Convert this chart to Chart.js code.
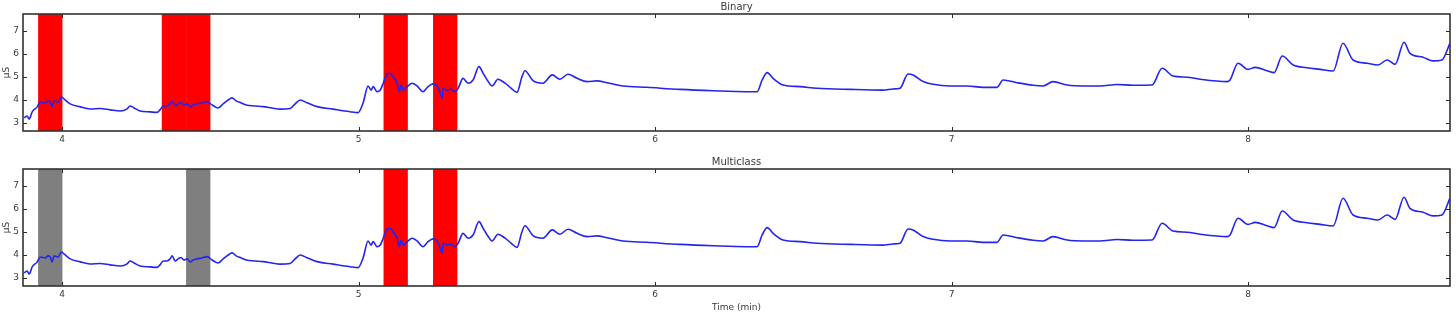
<!DOCTYPE html>
<html>
<head>
<meta charset="utf-8">
<script src="https://cdn.jsdelivr.net/npm/chart.js@4.4.1/dist/chart.umd.min.js"></script>
<style>
  html, body { margin: 0; padding: 0; background: #ffffff; }
  #wrap { position: relative; width: 1456px; height: 317px; overflow: hidden; }
  canvas { position: absolute; left: 0; }
  #c1 { top: 0; }
  #c2 { top: 155px; }
</style>
</head>
<body>
<div id="wrap">
  <canvas id="c1" width="1456" height="155"></canvas>
  <canvas id="c2" width="1456" height="162"></canvas>
</div>
<script>
// ---- data (time in minutes, skin conductance in µS) ----
const timeMin = [3.872,3.882,3.889,3.899,3.916,3.926,3.943,3.953,3.960,3.966,3.973,3.987,3.997,4.007,4.027,4.061,4.094,4.128,4.162,4.196,4.219,4.229,4.243,4.263,4.297,4.320,4.330,4.341,4.354,4.364,4.371,4.381,4.391,4.401,4.411,4.422,4.432,4.442,4.455,4.472,4.489,4.506,4.526,4.543,4.560,4.573,4.587,4.604,4.621,4.651,4.678,4.708,4.735,4.769,4.786,4.803,4.826,4.860,4.914,4.971,4.998,5.015,5.032,5.042,5.049,5.062,5.073,5.083,5.096,5.106,5.116,5.130,5.137,5.143,5.150,5.164,5.180,5.197,5.217,5.234,5.251,5.268,5.282,5.285,5.298,5.309,5.325,5.336,5.352,5.369,5.386,5.406,5.420,5.437,5.450,5.470,5.494,5.514,5.534,5.551,5.561,5.588,5.622,5.653,5.679,5.706,5.737,5.771,5.804,5.838,5.892,5.973,6.084,6.196,6.310,6.344,6.361,6.378,6.398,6.432,6.489,6.546,6.658,6.769,6.803,6.826,6.853,6.870,6.904,6.938,6.995,7.052,7.106,7.153,7.174,7.221,7.275,7.309,7.342,7.390,7.444,7.501,7.558,7.612,7.676,7.710,7.747,7.794,7.838,7.929,7.939,7.966,8.000,8.024,8.064,8.088,8.115,8.152,8.199,8.243,8.287,8.320,8.354,8.401,8.438,8.469,8.496,8.526,8.546,8.590,8.624,8.654,8.681];
const conductance = [3.22,3.30,3.17,3.48,3.70,3.91,3.87,3.96,3.91,3.70,3.96,3.91,4.13,4.04,3.83,3.70,3.61,3.63,3.57,3.52,3.61,3.74,3.65,3.52,3.48,3.46,3.57,3.74,3.74,3.83,3.96,3.74,3.83,3.89,3.78,3.83,3.70,3.78,3.83,3.87,3.93,3.78,3.65,3.83,4.00,4.09,3.96,3.87,3.78,3.74,3.71,3.65,3.60,3.63,3.83,4.00,3.88,3.71,3.60,3.49,3.45,3.87,4.61,4.43,4.58,4.36,4.43,4.73,5.13,5.16,5.01,4.73,4.36,4.65,4.43,4.58,4.73,4.61,4.36,4.58,4.70,4.55,4.09,4.52,4.43,4.47,4.36,4.52,4.94,4.73,4.87,5.45,5.16,4.80,4.61,4.90,4.73,4.52,4.33,5.01,5.27,4.84,4.73,5.09,4.90,5.12,4.94,4.80,4.83,4.75,4.61,4.55,4.46,4.40,4.36,4.36,4.87,5.19,4.94,4.65,4.58,4.51,4.46,4.43,4.48,4.51,5.13,5.09,4.80,4.68,4.61,4.61,4.55,4.55,4.87,4.75,4.64,4.61,4.80,4.65,4.61,4.61,4.67,4.64,4.65,5.38,5.04,4.99,4.90,4.80,4.87,5.60,5.33,5.42,5.27,5.19,5.91,5.52,5.40,5.33,5.26,6.47,5.74,5.60,5.52,5.74,5.55,6.51,6.03,5.86,5.70,5.74,6.47];

// ---- highlighted windows ----
const binaryStart = [3.919, 4.336, 4.418, 5.084, 5.251];
const binaryEnd   = [4.001, 4.418, 4.500, 5.166, 5.333];
const binaryClass = ['stress', 'stress', 'stress', 'stress', 'stress'];

const multiStart = [3.919, 4.418, 5.084, 5.251];
const multiEnd   = [4.001, 4.500, 5.166, 5.333];
const multiClass = ['other', 'other', 'stress', 'stress'];

// ---- axes ----
const xTicks = [4, 5, 6, 7, 8];
const yTicks = [3, 4, 5, 6, 7];
const xMin = 3.868, xMax = 8.681;
const yMin = 2.65, yMax = 7.74;

const classColor = { stress: '#ff0000', other: '#7f7f7f' };
const TXT = '#3a3a3a';
const FONT = 'DejaVu Sans';

const framePlugin = {
  id: 'framePlugin',
  beforeDatasetsDraw(chart, args, opts) {
    const { ctx, chartArea: { top, bottom }, scales: { x } } = chart;
    ctx.save();
    opts.start.forEach((s, i) => {
      const x0 = x.getPixelForValue(s);
      const x1 = x.getPixelForValue(opts.end[i]);
      ctx.fillStyle = classColor[opts.cls[i]];
      ctx.fillRect(x0, top, x1 - x0, bottom - top);
    });
    ctx.restore();
  },
  afterDatasetsDraw(chart) {
    const { ctx, chartArea: { left, right, top, bottom }, scales: { x, y } } = chart;
    ctx.save();
    ctx.strokeStyle = '#2a2a2a';
    ctx.lineWidth = 1;
    const tl = 4;
    ctx.beginPath();
    x.ticks.forEach(t => {
      const px = Math.round(x.getPixelForValue(t.value)) + 0.5;
      ctx.moveTo(px, bottom); ctx.lineTo(px, bottom - tl);
      ctx.moveTo(px, top); ctx.lineTo(px, top + tl);
    });
    y.ticks.forEach(t => {
      const py = Math.round(y.getPixelForValue(t.value)) + 0.5;
      ctx.moveTo(left, py); ctx.lineTo(left + tl, py);
      ctx.moveTo(right, py); ctx.lineTo(right - tl, py);
    });
    ctx.stroke();
    ctx.lineWidth = 1.6;
    ctx.strokeStyle = '#333333';
    ctx.strokeRect(left, top, right - left, bottom - top);
    ctx.restore();
  }
};

function makeChart(id, title, start, end, cls, xAxisHeight, showXTitle) {
  return new Chart(document.getElementById(id), {
    type: 'line',
    data: {
      datasets: [{
        data: timeMin.map((t, i) => ({ x: t, y: conductance[i] })),
        borderColor: '#2424ee',
        borderWidth: 1.6,
        pointRadius: 0,
        cubicInterpolationMode: 'monotone',
        fill: false
      }]
    },
    options: {
      responsive: false,
      animation: false,
      events: [],
      layout: { padding: { left: 0, right: 6, top: 0, bottom: 0 } },
      plugins: {
        legend: { display: false },
        tooltip: { enabled: false },
        title: {
          display: true,
          text: title,
          fullSize: false,
          color: TXT,
          font: { family: FONT, size: 10, weight: 'normal', lineHeight: 1.2 },
          padding: { top: 1, bottom: 1 }
        },
        framePlugin: { start, end, cls }
      },
      scales: {
        x: {
          type: 'linear',
          min: xMin, max: xMax,
          afterBuildTicks: s => { s.ticks = xTicks.map(v => ({ value: v })); },
          afterFit: s => { s.height = xAxisHeight; },
          grid: { display: false, drawTicks: false },
          border: { display: false },
          ticks: { color: TXT, font: { family: FONT, size: 9 }, padding: 3, maxRotation: 0,
                   callback: v => String(v) },
          title: {
            display: showXTitle,
            text: 'Time (min)',
            color: TXT,
            font: { family: FONT, size: 9 },
            padding: { top: 0, bottom: 4 }
          }
        },
        y: {
          type: 'linear',
          min: yMin, max: yMax,
          afterBuildTicks: s => { s.ticks = yTicks.map(v => ({ value: v })); },
          afterFit: s => { s.width = 23; },
          grid: { display: false, drawTicks: false },
          border: { display: false },
          ticks: { color: TXT, font: { family: FONT, size: 9 }, padding: 4,
                   callback: v => String(v) },
          title: {
            display: true,
            text: 'µS',
            color: TXT,
            font: { family: FONT, size: 9 },
            padding: { top: 1, bottom: 0 }
          }
        }
      }
    },
    plugins: [framePlugin]
  });
}

makeChart('c1', 'Binary', binaryStart, binaryEnd, binaryClass, 24, false);
makeChart('c2', 'Multiclass', multiStart, multiEnd, multiClass, 31, true);
</script>
</body>
</html>
